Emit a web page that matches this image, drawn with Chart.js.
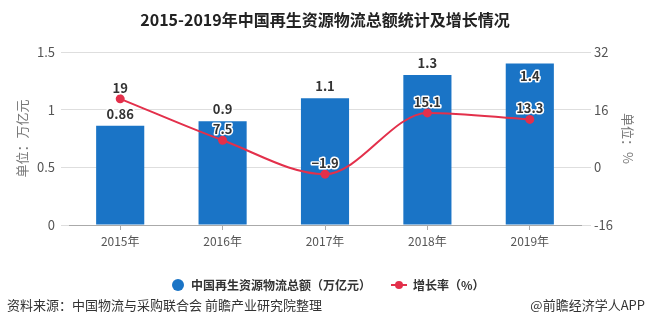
<!DOCTYPE html>
<html>
<head>
<meta charset="utf-8">
<script src="https://cdn.jsdelivr.net/npm/chart.js@4.4.1/dist/chart.umd.min.js"></script>
<style>
  html, body { margin: 0; padding: 0; background: #fff; }
  #wrap { width: 649px; height: 325px; position: relative; }
</style>
</head>
<body>
<div id="wrap"><canvas id="mainChart" width="649" height="325"></canvas></div>
<script>
// data
const years = ['2015年', '2016年', '2017年', '2018年', '2019年'];
const totals = [0.86, 0.9, 1.1, 1.3, 1.4];
const growth = [19, 7.5, -1.9, 15.1, 13.3];
const leftTicks = [0, 0.5, 1, 1.5];
const rightTicks = [-16, 0, 16, 32];

const FONT = "'Noto Sans CJK SC', 'Noto Sans', sans-serif";
const BLUE = '#1a74c6';
const RED = '#e3304b';

// text with a white halo, like the reference labels
function haloText(ctx, txt, x, y) {
    ctx.lineWidth = 3;
    ctx.strokeStyle = '#fff';
    ctx.lineJoin = 'round';
    ctx.strokeText(txt, x, y);
    ctx.fillStyle = '#333';
    ctx.fillText(txt, x, y);
}

const decorations = {
    id: 'decorations',
    afterDatasetsDraw(chart) {
        const ctx = chart.ctx;
        ctx.save();
        ctx.textAlign = 'center';
        ctx.textBaseline = 'middle';
        ctx.font = 'bold 13px ' + FONT;

        // bar values
        chart.getDatasetMeta(0).data.forEach((bar, i) => {
            let y = bar.y - 12;
            if (y < 60) y = bar.y + 13;
            haloText(ctx, String(totals[i]), bar.x, y);
        });
        // line values
        chart.getDatasetMeta(1).data.forEach((pt, i) => {
            haloText(ctx, String(growth[i]).replace('-', '−'), pt.x, pt.y - 11);
        });
        ctx.restore();
    },
    afterDraw(chart) {
        const ctx = chart.ctx;
        const area = chart.chartArea;
        const midY = (area.top + area.bottom) / 2;
        ctx.save();

        // title
        ctx.textAlign = 'center';
        ctx.textBaseline = 'middle';
        ctx.fillStyle = '#222';
        ctx.font = 'bold 16px ' + FONT;
        ctx.fillText('2015-2019年中国再生资源物流总额统计及增长情况', 325, 20);

        // axis titles
        ctx.font = '13px ' + FONT;
        ctx.fillStyle = '#777';
        ctx.save();
        ctx.translate(22, midY);
        ctx.rotate(-Math.PI / 2);
        ctx.fillText('单位：万亿元', 0, 0);
        ctx.restore();
        ctx.save();
        ctx.translate(628, midY);
        ctx.rotate(Math.PI / 2);
        ctx.fillText('单位：%', 0, 0);
        ctx.restore();

        // legend
        ctx.font = 'bold 12px ' + FONT;
        ctx.textAlign = 'left';
        ctx.beginPath();
        ctx.arc(178, 285, 6, 0, Math.PI * 2);
        ctx.fillStyle = BLUE;
        ctx.fill();
        ctx.fillStyle = '#333';
        ctx.fillText('中国再生资源物流总额（万亿元）', 191, 285);
        ctx.strokeStyle = RED;
        ctx.lineWidth = 2;
        ctx.beginPath();
        ctx.moveTo(391, 285);
        ctx.lineTo(407, 285);
        ctx.stroke();
        ctx.beginPath();
        ctx.arc(399, 285, 4, 0, Math.PI * 2);
        ctx.fillStyle = RED;
        ctx.fill();
        ctx.fillStyle = '#333';
        ctx.fillText('增长率（%）', 413, 285);

        // footer
        ctx.font = '13px ' + FONT;
        ctx.fillStyle = '#333';
        ctx.fillText('资料来源：中国物流与采购联合会 前瞻产业研究院整理', 7, 305);
        ctx.textAlign = 'right';
        ctx.fillText('@前瞻经济学人APP', 645, 305);
        ctx.restore();
    }
};

new Chart(document.getElementById('mainChart'), {
    type: 'bar',
    data: {
        labels: years,
        datasets: [
            {
                type: 'bar',
                data: totals,
                backgroundColor: BLUE,
                yAxisID: 'y',
                barPercentage: 0.94,
                categoryPercentage: 0.5,
                order: 2
            },
            {
                type: 'line',
                data: growth,
                borderColor: RED,
                backgroundColor: RED,
                borderWidth: 2,
                pointRadius: 4.5,
                pointBackgroundColor: RED,
                pointBorderWidth: 0,
                cubicInterpolationMode: 'monotone',
                yAxisID: 'y1',
                order: 1
            }
        ]
    },
    options: {
        responsive: false,
        animation: false,
        layout: { padding: { top: 52, left: 0, right: 0, bottom: 0 } },
        plugins: {
            legend: { display: false },
            title: { display: false },
            tooltip: { enabled: false }
        },
        scales: {
            x: {
                grid: { display: true, drawOnChartArea: false, offset: false, tickLength: 5, color: '#aaa' },
                border: { color: '#aaa' },
                ticks: { color: '#555', font: { family: FONT, size: 12 }, padding: 4 },
                afterFit: (s) => { s.height = 100; }
            },
            y: {
                position: 'left',
                min: 0,
                max: 1.5,
                afterBuildTicks: (s) => { s.ticks = leftTicks.map(v => ({ value: v })); },
                grid: { color: '#dedede', tickLength: 8 },
                border: { display: false },
                ticks: {
                    color: '#555',
                    font: { family: FONT, size: 13 },
                    padding: 6,
                    callback: (v) => String(v)
                },
                afterFit: (s) => { s.width = 69; }
            },
            y1: {
                position: 'right',
                min: -16,
                max: 32,
                afterBuildTicks: (s) => { s.ticks = rightTicks.map(v => ({ value: v })); },
                grid: { drawOnChartArea: false, color: '#dedede', tickLength: 10 },
                border: { display: false },
                ticks: {
                    color: '#555',
                    font: { family: FONT, size: 13 },
                    padding: 3,
                    callback: (v) => String(v)
                },
                afterFit: (s) => { s.width = 68; }
            }
        }
    },
    plugins: [decorations]
});
</script>
</body>
</html>
